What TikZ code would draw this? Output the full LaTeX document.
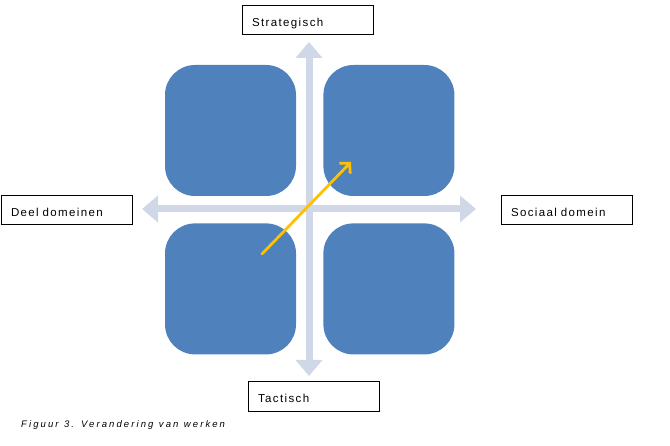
\documentclass[tikz,border=0pt]{standalone}
\usepackage{fontspec}
\setmainfont{Liberation Sans}[LetterSpace=12]
\newfontfamily\captionfont{Liberation Sans}[LetterSpace=22]
\usepackage{tikz}
\usetikzlibrary{positioning,arrows.meta}
\definecolor{quadblue}{HTML}{4F81BD}
\definecolor{axisgrey}{HTML}{D0D8E8}
\definecolor{shiftorange}{HTML}{FFC000}
\newcommand\boxfont{\fontsize{11.5}{13}\selectfont\spaceskip=6.5pt plus 1pt\relax}
\newcommand\figfont{\captionfont\itshape\fontsize{9.5}{11}\selectfont\spaceskip=5.5pt\relax}
\tikzset{
  quadrant/.style={shape=rectangle,fill=quadblue,minimum size=131pt,rounded corners=30pt,inner sep=0pt},
  labelbox/.style={shape=rectangle,draw=black,line width=1pt,minimum width=131pt,minimum height=29pt,
    text width=111pt,align=left,inner sep=0pt,text height=12pt,text depth=0pt,font=\boxfont},
  axis/.style={draw=axisgrey,line width=7pt,{Triangle[width=26pt,length=16pt]}-{Triangle[width=26pt,length=16pt]}},
  changearrow/.style={draw=shiftorange,line width=2.8pt,line cap=round,-{Straight Barb[length=7pt,width=15pt]}}
}

\begin{document}
\begin{tikzpicture}[x=1pt,y=1pt,node distance=27pt and 27pt]
      \useasboundingbox (0,0) rectangle (670,445);
      \coordinate (c) at (309,236);
      \node[quadrant] (tl) at (230.5,314.5) {};
      \node[quadrant,right=of tl] (tr) {};
      \node[quadrant,below=of tl] (bl) {};
      \node[quadrant,right=of bl] (br) {};
      \coordinate (up) at (309,403);
      \coordinate (down) at (309,69);
      \coordinate (left) at (142,236);
      \coordinate (right) at (476,236);
      \node[labelbox] (strat) at (307.5,424.5) {Strategisch};
      \node[labelbox] (tact) at (313.5,48.5) {Tactisch};
      \node[labelbox] (deel) at (66.5,234.5) {Deel domeinen};
      \node[labelbox] (sociaal) at (566.5,234.5) {Sociaal domein};
      \node[anchor=west,inner sep=0pt,font=\figfont] (caption) at (21,20) {Figuur 3. Verandering van werken};
      \coordinate (from) at (262,191);
      \coordinate (to) at (351,283);
      \begin{scope}
        \draw[axis] (left) -- (right);
        \draw[axis] (down) -- (up);
        \draw[changearrow] (from) -- (to);
      \end{scope}
    \end{tikzpicture}
\end{document}
